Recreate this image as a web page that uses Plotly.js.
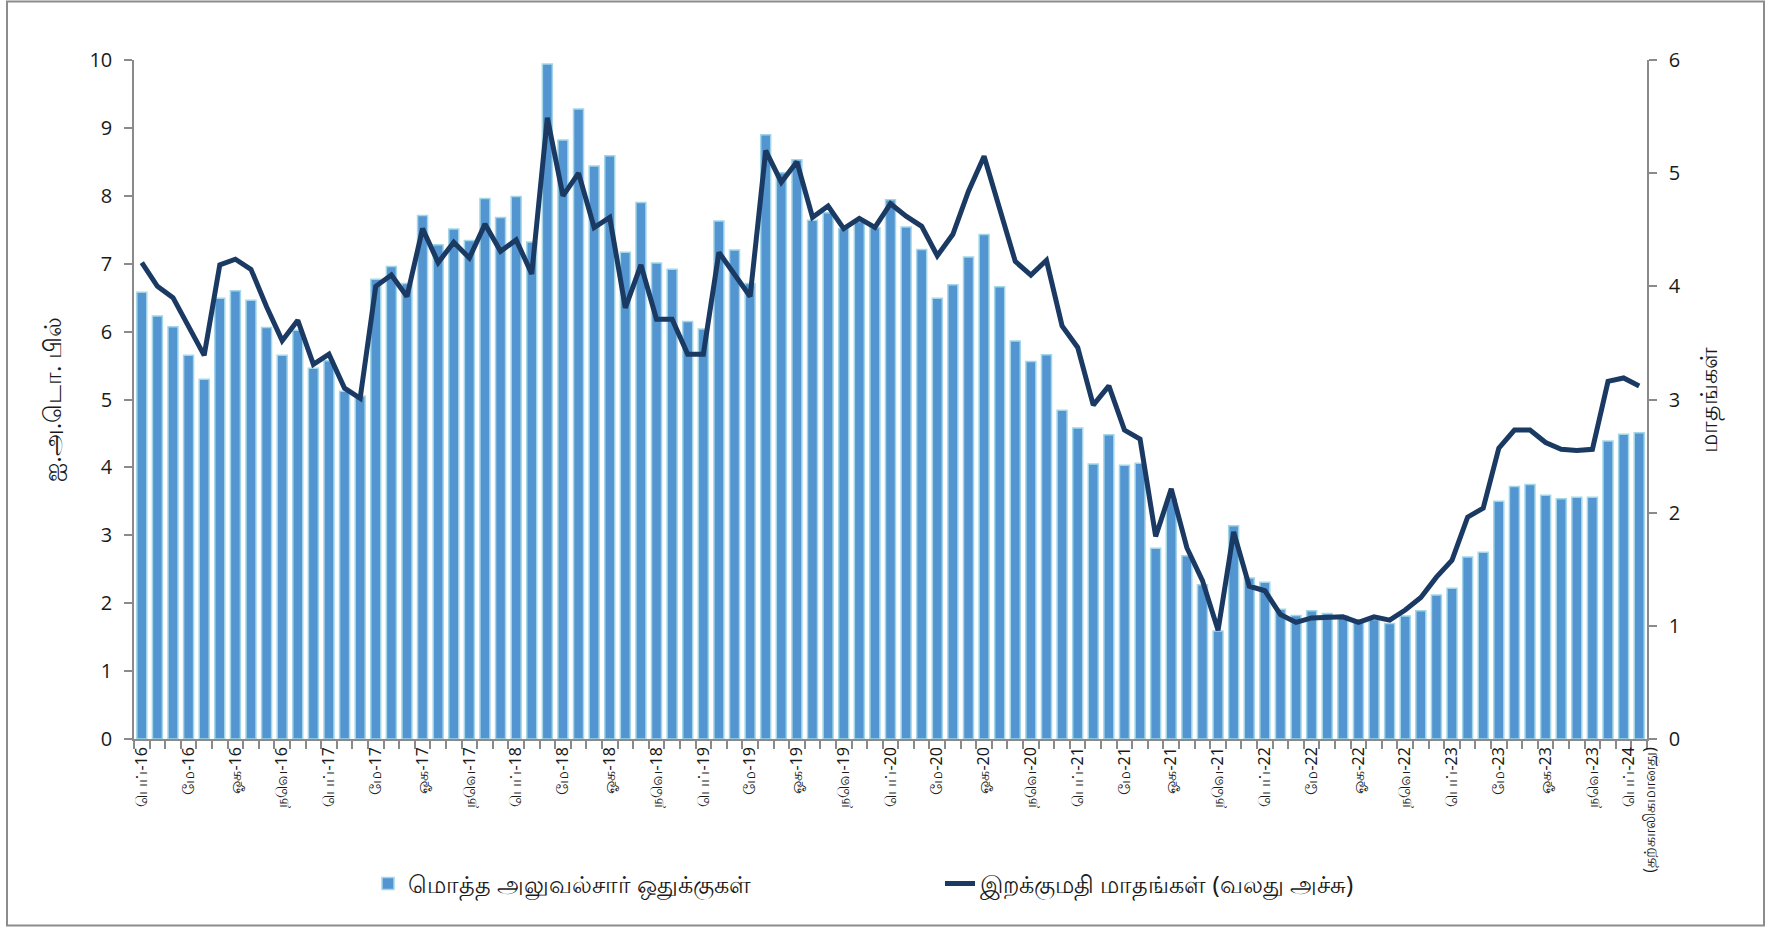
<!DOCTYPE html>
<html>
<head>
<meta charset="utf-8">
<script src="https://cdn.plot.ly/plotly-3.0.1.min.js"></script>
<style>
  html, body { margin: 0; padding: 0; background: #ffffff; }
  #chart { width: 1775px; height: 927px; }
</style>
</head>
<body>
<div id="chart"></div>
<script>
// Months Feb-2016 .. Feb-2024 (category keys)
const months = [];
for (let y = 2016; y <= 2024; y++) {
  for (let m = 1; m <= 12; m++) {
    if ((y === 2016 && m < 2) || (y === 2024 && m > 2)) continue;
    months.push(y + '-' + String(m).padStart(2, '0'));
  }
}

// Total official reserves (USD bn, left axis)
const reserves = [
  6.58, 6.23, 6.07, 5.65, 5.30, 6.49, 6.60, 6.46, 6.06, 5.65, 6.02,
  5.46, 5.57, 5.12, 5.05, 6.77, 6.96, 6.71, 7.71, 7.28, 7.51, 7.34, 7.96,
  7.68, 7.99, 7.32, 9.94, 8.82, 9.28, 8.44, 8.59, 7.17, 7.90, 7.01, 6.92,
  6.15, 6.04, 7.63, 7.20, 6.71, 8.90, 8.34, 8.53, 7.64, 7.75, 7.52, 7.62,
  7.53, 7.94, 7.54, 7.21, 6.49, 6.69, 7.10, 7.43, 6.66, 5.86, 5.56, 5.66,
  4.84, 4.58, 4.05, 4.48, 4.03, 4.06, 2.81, 3.54, 2.70, 2.27, 1.59, 3.14,
  2.37, 2.31, 1.91, 1.82, 1.89, 1.85, 1.81, 1.75, 1.76, 1.70, 1.81, 1.89,
  2.12, 2.22, 2.68, 2.75, 3.50, 3.72, 3.75, 3.59, 3.54, 3.56, 3.56, 4.39,
  4.49, 4.51
];

// Months of imports (right axis)
const importMonths = [
  4.21, 4.00, 3.90, 3.64, 3.39, 4.19, 4.24, 4.15, 3.82, 3.52, 3.70,
  3.31, 3.40, 3.10, 3.01, 4.00, 4.10, 3.91, 4.51, 4.21, 4.39, 4.25, 4.55,
  4.31, 4.41, 4.11, 5.49, 4.80, 5.00, 4.52, 4.61, 3.81, 4.19, 3.71, 3.71,
  3.40, 3.40, 4.30, 4.11, 3.91, 5.20, 4.92, 5.10, 4.61, 4.71, 4.51, 4.60,
  4.52, 4.73, 4.62, 4.53, 4.27, 4.46, 4.84, 5.15, 4.68, 4.22, 4.10, 4.23,
  3.65, 3.46, 2.95, 3.12, 2.73, 2.65, 1.79, 2.21, 1.69, 1.40, 0.96, 1.83,
  1.35, 1.31, 1.10, 1.03, 1.07, 1.08, 1.08, 1.03, 1.08, 1.05, 1.14, 1.25,
  1.43, 1.58, 1.96, 2.04, 2.57, 2.73, 2.73, 2.62, 2.56, 2.55, 2.56, 3.16,
  3.19, 3.12
];

// Tick labels shown every third month, starting Feb-2016
const tickLabels = [
  'பெப்-16', 'மே-16', 'ஓக-16', 'நவெ-16',
  'பெப்-17', 'மே-17', 'ஓக-17', 'நவெ-17',
  'பெப்-18', 'மே-18', 'ஓக-18', 'நவெ-18',
  'பெப்-19', 'மே-19', 'ஓக-19', 'நவெ-19',
  'பெப்-20', 'மே-20', 'ஓக-20', 'நவெ-20',
  'பெப்-21', 'மே-21', 'ஓக-21', 'நவெ-21',
  'பெப்-22', 'மே-22', 'ஓக-22', 'நவெ-22',
  'பெப்-23', 'மே-23', 'ஓக-23', 'நவெ-23',
  'பெப்-24<br>(தற்காலிகமானது)'
];

const seriesNames = ['மொத்த அலுவல்சார் ஒதுக்குகள்', 'இறக்குமதி மாதங்கள் (வலது அச்சு)'];
const leftTitle = 'ஐ.அ.டொ. பில்';
const rightTitle = 'மாதங்கள்';

const tickText = months.map((m, i) => (i % 3 === 0 ? tickLabels[i / 3] : ''));

const axisGrey = '#8a8a8a';
const numFont = { family: 'Open Sans, Noto Sans, sans-serif', size: 20, color: '#1a1a1a' };

const W = 1775, H = 927;
const margin = { l: 134, r: 128, t: 60, b: 188 };
const pw = W - margin.l - margin.r, ph = H - margin.t - margin.b;
const px2x = (px) => (px - margin.l) / pw;
const px2y = (py) => (H - margin.b - py) / ph;

const traces = [
  {
    type: 'bar',
    name: seriesNames[0],
    x: months,
    y: reserves,
    marker: { color: '#5295D1', line: { color: '#A3D7E8', width: 1.5 } },
    yaxis: 'y',
    hoverinfo: 'x+y'
  },
  {
    type: 'scatter',
    mode: 'lines',
    name: seriesNames[1],
    x: months,
    y: importMonths,
    yaxis: 'y2',
    line: { color: '#1B3A63', width: 5 },
    hoverinfo: 'x+y'
  }
];

const layout = {
  width: W,
  height: H,
  margin: margin,
  paper_bgcolor: '#ffffff',
  plot_bgcolor: '#ffffff',
  bargap: 0.36,
  showlegend: true,
  font: { family: 'Noto Sans, sans-serif', color: '#1a1a1a' },
  xaxis: {
    type: 'category',
    range: [-0.5, months.length - 0.5],
    tickmode: 'array',
    tickvals: months,
    ticktext: tickText,
    tickson: 'boundaries',
    ticks: 'outside',
    ticklen: 8,
    tickwidth: 1.5,
    tickcolor: axisGrey,
    showline: true,
    linecolor: axisGrey,
    linewidth: 1.5,
    showgrid: false,
    zeroline: false,
    tickangle: -90,
    tickfont: { size: 16, color: '#1a1a1a' }
  },
  yaxis: {
    range: [0, 10],
    dtick: 1,
    tick0: 0,
    ticks: 'outside',
    ticklen: 8,
    tickwidth: 1.5,
    tickcolor: axisGrey,
    showline: true,
    linecolor: axisGrey,
    linewidth: 1.5,
    showgrid: false,
    zeroline: false,
    tickfont: numFont,
    ticklabelstandoff: 8,
    title: { text: leftTitle, font: { size: 24, color: '#1a1a1a' }, standoff: 21 }
  },
  yaxis2: {
    overlaying: 'y',
    side: 'right',
    range: [0, 6],
    dtick: 1,
    tick0: 0,
    ticks: 'outside',
    ticklen: 8,
    tickwidth: 1.5,
    tickcolor: axisGrey,
    showline: true,
    linecolor: axisGrey,
    linewidth: 1.5,
    showgrid: false,
    zeroline: false,
    tickfont: numFont,
    ticklabelstandoff: 8,
    title: { text: rightTitle, font: { size: 24, color: '#1a1a1a' }, standoff: 20 }
  },
  legend: {
    orientation: 'h',
    x: px2x(368),
    xanchor: 'left',
    y: px2y(884),
    yanchor: 'middle',
    font: { size: 24, color: '#1a1a1a' },
    entrywidth: 527,
    entrywidthmode: 'pixels',
    bgcolor: 'rgba(0,0,0,0)'
  },
  shapes: [
    {
      type: 'rect', xref: 'paper', yref: 'paper',
      x0: px2x(7), x1: px2x(1764), y0: px2y(925.5), y1: px2y(1.5),
      line: { color: '#8c8c8c', width: 2 }, fillcolor: 'rgba(0,0,0,0)', layer: 'below'
    }
  ]
};

Plotly.newPlot('chart', traces, layout, { displayModeBar: false, staticPlot: false });
</script>
</body>
</html>
